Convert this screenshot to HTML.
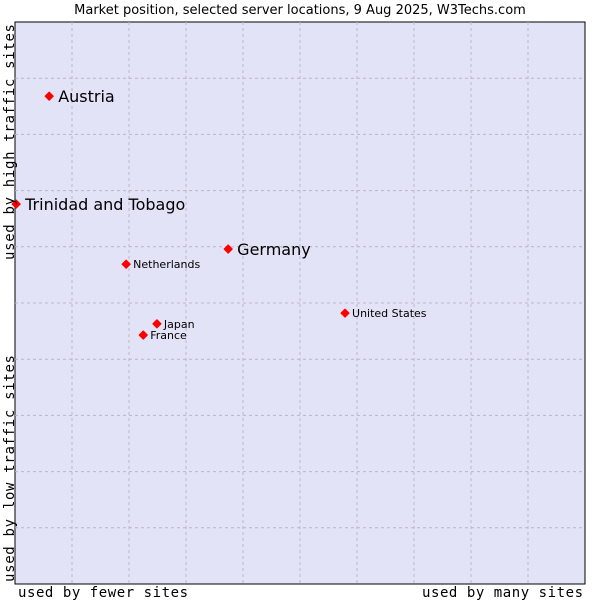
<!DOCTYPE html>
<html><head><meta charset="utf-8"><style>
body{margin:0;background:#fff;}
svg text{font-family:"DejaVu Sans","Liberation Sans",sans-serif;fill:#000;}
.mono{font-family:"DejaVu Sans Mono","Liberation Mono",monospace !important;}
</style></head><body>
<svg id="chart" width="600" height="600" xmlns="http://www.w3.org/2000/svg">
<rect x="0" y="0" width="600" height="600" fill="#fff"/>
<text x="300" y="14" text-anchor="middle" font-size="13">Market position, selected server locations, 9 Aug 2025, W3Techs.com</text>
<rect x="15" y="22" width="570" height="562" fill="#e3e3f8" stroke="#000" stroke-width="1"/>
<g id="grid"></g>
<g id="marks"></g>
<text class="mono" x="18" y="597" font-size="14" textLength="170">used by fewer sites</text>
<text class="mono" x="422" y="597" font-size="14" textLength="161">used by many sites</text>
<text class="mono" transform="translate(14,260) rotate(-90)" font-size="14" textLength="236">used by high traffic sites</text>
<text class="mono" transform="translate(14,582) rotate(-90)" font-size="14" textLength="227">used by low traffic sites</text>
</svg>
<script>
const names = ["Austria","Trinidad and Tobago","Germany","Netherlands","Japan","France","United States"];
const xValues = [6.0, 0.2, 37.4, 19.5, 24.9, 22.5, 57.9];
const yValues = [86.8, 67.6, 59.6, 56.9, 46.3, 44.3, 48.2];
const highlighted = [true, true, true, false, false, false, false];
const X0=15,X1=585,Y0=584,Y1=22;
const sx=v=>X0+(X1-X0)*v/100, sy=v=>Y0-(Y0-Y1)*v/100;
const NS="http://www.w3.org/2000/svg";
const grid=document.getElementById('grid'), marks=document.getElementById('marks');
for(let i=1;i<10;i++){
  const v=document.createElementNS(NS,'line');
  
  
  v.setAttribute('x1',sx(i*10));v.setAttribute('x2',sx(i*10));v.setAttribute('y1',Y1);v.setAttribute('y2',Y0);
  v.setAttribute('stroke','#b8b8c0');v.setAttribute('stroke-dasharray','3,3');
  grid.appendChild(v);
  const h=document.createElementNS(NS,'line');
  
  
  h.setAttribute('y1',sy(i*10));h.setAttribute('y2',sy(i*10));h.setAttribute('x1',X0);h.setAttribute('x2',X1);
  h.setAttribute('stroke','#b8b8c0');h.setAttribute('stroke-dasharray','3,3');
  grid.appendChild(h);
}
names.forEach((n,i)=>{
  const x=sx(xValues[i]), y=sy(yValues[i]);
  const p=document.createElementNS(NS,'path');
  
  
  p.setAttribute('d',`M${x-4},${y} L${x},${y-4} L${x+4},${y} L${x},${y+4} Z`);
  p.setAttribute('fill','#f00');p.setAttribute('stroke','#f00');p.setAttribute('stroke-width','1.2');p.setAttribute('stroke-linejoin','round');
  marks.appendChild(p);
  const t=document.createElementNS(NS,'text');
  
  
  const big=highlighted[i];
  t.setAttribute('x',x+(big?9:7));t.setAttribute('y',y+(big?6:4));
  t.setAttribute('font-size',big?16:11);
  t.textContent=n;
  marks.appendChild(t);
});
</script>
</body></html>
